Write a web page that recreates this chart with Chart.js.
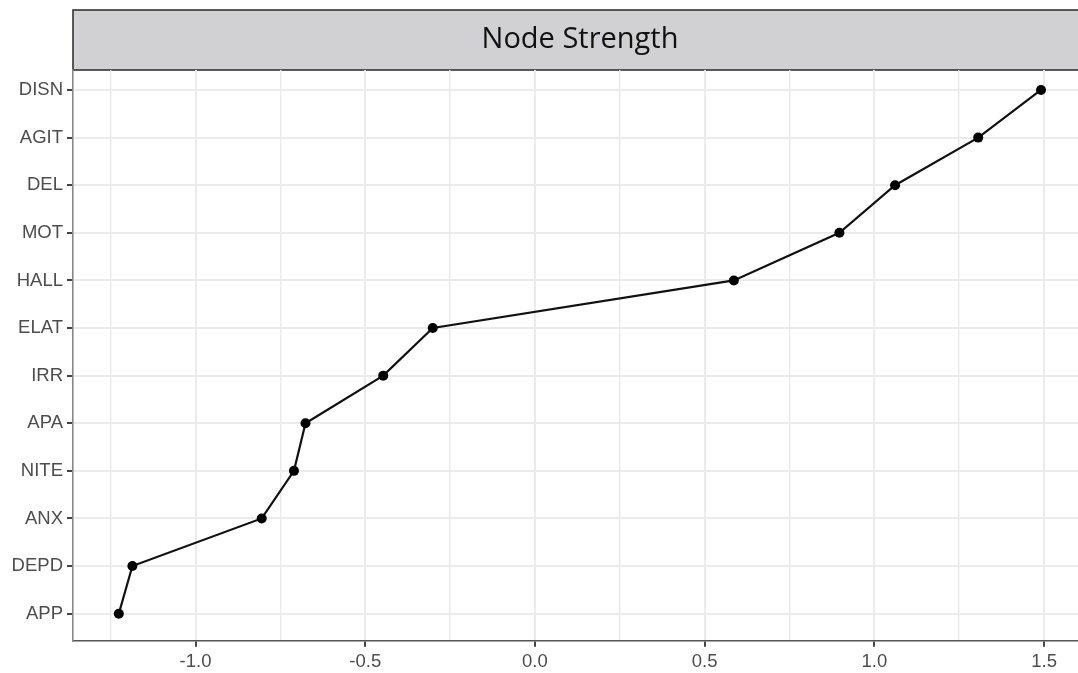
<!DOCTYPE html>
<html>
<head>
<meta charset="utf-8">
<script src="https://cdn.jsdelivr.net/npm/chart.js@4.4.1/dist/chart.umd.min.js"></script>
<style>
  html, body { margin: 0; padding: 0; background: #ffffff; overflow: hidden; }
  #wrap { width: 1078px; height: 679px; position: relative; }
</style>
</head>
<body>
<div id="wrap"><canvas id="c"></canvas></div>
<script>
// ---- data ----
const chartTitle = "Node Strength";
const categories = ["DISN", "AGIT", "DEL", "MOT", "HALL", "ELAT", "IRR", "APA", "NITE", "ANX", "DEPD", "APP"];
const strengthValues = [1.491, 1.306, 1.061, 0.897, 0.586, -0.301, -0.447, -0.676, -0.710, -0.805, -1.186, -1.226];
const xTickValues = [-1.0, -0.5, 0.0, 0.5, 1.0, 1.5];
const xTickLabels = ["-1.0", "-0.5", "0.0", "0.5", "1.0", "1.5"];

// minor grid positions (midpoints between major ticks)
const xMinor = [-1.25, -0.75, -0.25, 0.25, 0.75, 1.25];

const stripPlugin = {
  id: 'strip',
  beforeDraw(chart) {
    const { ctx, chartArea } = chart;
    ctx.save();
    ctx.fillStyle = '#d1d0d2';
    ctx.fillRect(chartArea.left, 10, chart.width - chartArea.left + 5, 60);
    ctx.strokeStyle = '#333333';
    ctx.lineWidth = 1.6;
    ctx.strokeRect(chartArea.left, 10, chart.width - chartArea.left + 5, 60);
    ctx.fillStyle = '#111111';
    ctx.font = '29px "Open Sans", sans-serif';
    ctx.textAlign = 'center';
    ctx.textBaseline = 'middle';
    ctx.fillText(chartTitle, 580, 40);
    ctx.restore();
  }
};

new Chart(document.getElementById('c'), {
  type: 'scatter',
  data: {
    datasets: [{
      data: strengthValues.map((v, i) => ({ x: v, y: i })),
      showLine: true,
      borderColor: '#111111',
      borderWidth: 2.2,
      backgroundColor: '#000000',
      pointRadius: 5,
      pointHoverRadius: 5,
      pointBorderWidth: 0,
      tension: 0
    }]
  },
  options: {
    responsive: true,
    maintainAspectRatio: false,
    animation: false,
    events: [],
    layout: { autoPadding: false, padding: { top: 70, right: 0, bottom: 2, left: 0 } },
    plugins: { legend: { display: false }, tooltip: { enabled: false }, title: { display: false } },
    scales: {
      x: {
        type: 'linear',
        min: -1.361,
        max: 1.600,
        afterBuildTicks(scale) {
          const all = xTickValues.concat(xMinor).sort((a, b) => a - b);
          scale.ticks = all.map(v => ({ value: v }));
        },
        afterFit(scale) { scale.paddingRight = 0; scale.paddingLeft = 0; },
        ticks: {
          autoSkip: false,
          maxRotation: 0,
          padding: 4,
          color: '#4d4d4d',
          font: { family: '"Liberation Sans", Arial, sans-serif', size: 18.5 },
          callback(value) {
            const idx = xTickValues.findIndex(t => Math.abs(t - value) < 1e-6);
            return idx >= 0 ? xTickLabels[idx] : '';
          }
        },
        grid: {
          color: '#ebebeb',
          lineWidth: (ctx) => {
            const v = ctx.tick ? ctx.tick.value : 0;
            return xTickValues.some(t => Math.abs(t - v) < 1e-6) ? 2 : 1.5;
          },
          tickColor: (ctx) => {
            const v = ctx.tick ? ctx.tick.value : 0;
            return xTickValues.some(t => Math.abs(t - v) < 1e-6) ? '#444444' : 'rgba(0,0,0,0)';
          },
          tickLength: 6,
          tickWidth: 2
        },
        border: { display: true, color: '#555555', width: 1.6 }
      },
      y: {
        type: 'linear',
        reverse: true,
        min: -0.42,
        max: 11.57,
        afterBuildTicks(scale) {
          scale.ticks = categories.map((c, i) => ({ value: i }));
        },
        afterFit(scale) { scale.width = 73; scale.paddingTop = 0; scale.paddingBottom = 0; },
        ticks: {
          autoSkip: false,
          padding: 4,
          color: '#4d4d4d',
          font: { family: '"Liberation Sans", Arial, sans-serif', size: 18.5 },
          callback(value) { return categories[Math.round(value)] || ''; }
        },
        grid: {
          color: '#ebebeb',
          lineWidth: 2,
          tickColor: '#444444',
          tickLength: 6,
          tickWidth: 2
        },
        border: { display: true, color: '#888888', width: 1.6 }
      }
    }
  },
  plugins: [stripPlugin]
});
</script>
</body>
</html>
